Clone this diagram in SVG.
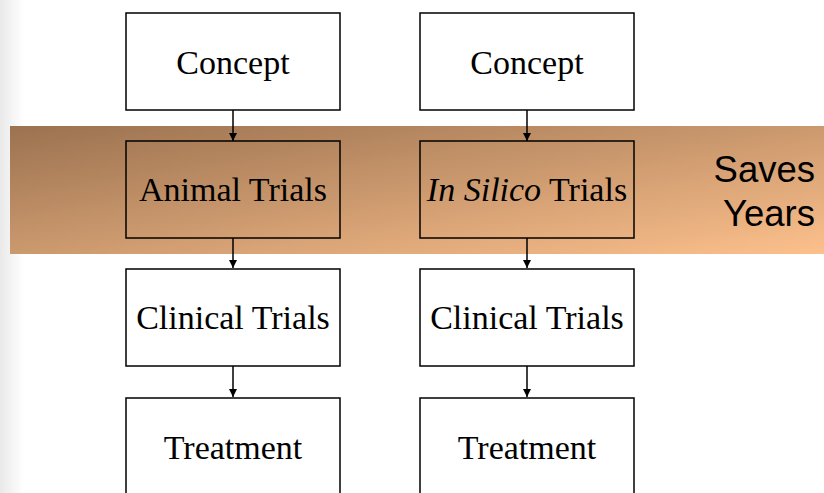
<svg xmlns="http://www.w3.org/2000/svg" width="824" height="493" viewBox="0 0 824 493">
<style>
.box{stroke:#000;stroke-width:1.5}
.w{fill:#fff}
.t{fill:none}
.lbl{font-family:"Liberation Serif","Times New Roman",serif;font-size:34px;fill:#000;text-anchor:middle}
.side{font-family:"Liberation Sans",Arial,sans-serif;font-size:36.5px;fill:#000;text-anchor:end}
.con{stroke:#000;stroke-width:1.5;fill:none;marker-end:url(#ah)}
</style>
<defs>
<linearGradient id="band" x1="0" y1="0" x2="1" y2="1" gradientUnits="objectBoundingBox">
<stop offset="0" stop-color="#9b7250"/>
<stop offset="1" stop-color="#fcc08c"/>
</linearGradient>
<linearGradient id="strip" x1="0" y1="0" x2="1" y2="0">
<stop offset="0" stop-color="#e9e9e9"/>
<stop offset="1" stop-color="#ffffff"/>
</linearGradient>
<marker id="ah" viewBox="0 0 8 10" refX="8" refY="5" markerWidth="8" markerHeight="10" markerUnits="userSpaceOnUse" orient="auto">
<path d="M0,1 L8,5 L0,9 z" fill="#000"/>
</marker>
</defs>
<rect x="0" y="0" width="824" height="493" fill="#fff"/>
<rect x="0" y="0" width="24" height="493" fill="url(#strip)"/>
<rect id="band-rect" x="10" y="126" width="814" height="128" fill="url(#band)"/>
<g id="connectors">
<line class="con" x1="233" y1="110" x2="233" y2="141"/>
<line class="con" x1="233" y1="238" x2="233" y2="268"/>
<line class="con" x1="233" y1="366" x2="233" y2="397"/>
<line class="con" x1="527" y1="110" x2="527" y2="141"/>
<line class="con" x1="527" y1="238" x2="527" y2="268"/>
<line class="con" x1="527" y1="366" x2="527" y2="397"/>
</g>
<g id="concept-left"><rect class="box w" x="126" y="13" width="214" height="97"/><text class="lbl" x="233" y="74">Concept</text></g>
<g id="animal-trials"><rect class="box t" x="126" y="141" width="214" height="97"/><text class="lbl" x="233" y="201">Animal Trials</text></g>
<g id="clinical-left"><rect class="box w" x="126" y="269" width="214" height="97"/><text class="lbl" x="233" y="329">Clinical Trials</text></g>
<g id="treatment-left"><rect class="box w" x="126" y="398" width="214" height="100"/><text class="lbl" x="233" y="459">Treatment</text></g>
<g id="concept-right"><rect class="box w" x="420" y="13" width="214" height="97"/><text class="lbl" x="527" y="74">Concept</text></g>
<g id="insilico-trials"><rect class="box t" x="420" y="141" width="214" height="97"/><text class="lbl" x="527" y="201"><tspan font-style="italic">In Silico</tspan> Trials</text></g>
<g id="clinical-right"><rect class="box w" x="420" y="269" width="214" height="97"/><text class="lbl" x="527" y="329">Clinical Trials</text></g>
<g id="treatment-right"><rect class="box w" x="420" y="398" width="214" height="100"/><text class="lbl" x="527" y="459">Treatment</text></g>
<g id="saves-years"><text class="side" x="815" y="182">Saves</text><text class="side" x="815" y="226">Years</text></g>
</svg>
